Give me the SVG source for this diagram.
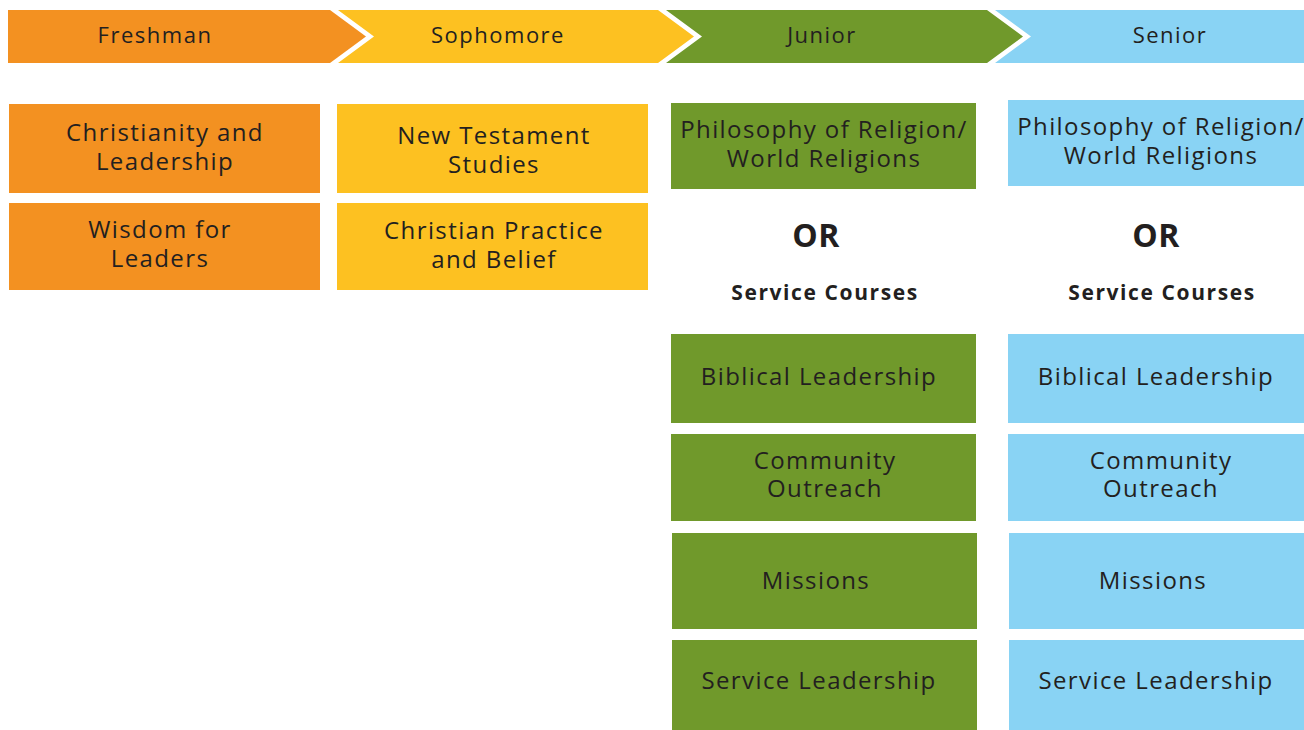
<svg xmlns="http://www.w3.org/2000/svg" width="1304" height="730" viewBox="0 0 1304 730">
<style>
.t{font-family:"Open Sans","Liberation Sans",sans-serif;font-size:24px;letter-spacing:1.4px;fill:#231F20;text-anchor:middle}
.h{font-family:"Open Sans","Liberation Sans",sans-serif;font-size:22px;letter-spacing:1.5px;fill:#231F20;text-anchor:middle}
.or{font-family:"Open Sans","Liberation Sans",sans-serif;font-size:32px;letter-spacing:0.5px;font-weight:bold;fill:#231F20;text-anchor:middle}
.sc{font-family:"Open Sans","Liberation Sans",sans-serif;font-size:21px;letter-spacing:1.6px;font-weight:bold;fill:#231F20;text-anchor:middle}
.o{fill:#F39121}.y{fill:#FDC121}.g{fill:#70992B}.b{fill:#89D3F4}
</style>
<rect width="1304" height="730" fill="#fff"/>
<g id="headers">
<g id="h-freshman"><polygon class="o" points="8,10 330,10 366,36.5 330,63 8,63"/><text class="h" x="155" y="43">Freshman</text></g>
<g id="h-sophomore"><polygon class="y" points="338,10 658,10 694,36.5 658,63 338,63 374,36.5"/><text class="h" x="498" y="43">Sophomore</text></g>
<g id="h-junior"><polygon class="g" points="666,10 987,10 1023,36.5 987,63 666,63 702,36.5"/><text class="h" x="822" y="43">Junior</text></g>
<g id="h-senior"><polygon class="b" points="995,10 1304,10 1304,63 995,63 1031,36.5"/><text class="h" x="1170" y="43">Senior</text></g>
</g>
<g id="freshman">
<g id="f1"><rect class="o" x="9" y="104" width="311" height="89"/><text class="t" x="165" y="141">Christianity and</text><text class="t" x="165" y="170">Leadership</text></g>
<g id="f2"><rect class="o" x="9" y="203" width="311" height="87"/><text class="t" x="160" y="238">Wisdom for</text><text class="t" x="160" y="267">Leaders</text></g>
</g>
<g id="sophomore">
<g id="s1"><rect class="y" x="337" y="104" width="311" height="89"/><text class="t" x="494" y="144">New Testament</text><text class="t" x="494" y="173">Studies</text></g>
<g id="s2"><rect class="y" x="337" y="203" width="311" height="87"/><text class="t" x="494" y="239">Christian Practice</text><text class="t" x="494" y="268">and Belief</text></g>
</g>
<g id="junior">
<g id="j1"><rect class="g" x="671" y="103" width="305" height="86"/><text class="t" x="824" y="138">Philosophy of Religion/</text><text class="t" x="824" y="167">World Religions</text></g>
<text class="or" x="816" y="247">OR</text>
<text class="sc" x="825" y="300">Service Courses</text>
<g id="j2"><rect class="g" x="671" y="334" width="305" height="89"/><text class="t" x="819" y="385">Biblical Leadership</text></g>
<g id="j3"><rect class="g" x="671" y="434" width="305" height="87"/><text class="t" x="825" y="469">Community</text><text class="t" x="825" y="497">Outreach</text></g>
<g id="j4"><rect class="g" x="672" y="533" width="305" height="96"/><text class="t" x="816" y="589">Missions</text></g>
<g id="j5"><rect class="g" x="672" y="640" width="305" height="90"/><text class="t" x="819" y="689">Service Leadership</text></g>
</g>
<g id="senior">
<g id="n1"><rect class="b" x="1008" y="100" width="296" height="86"/><text class="t" x="1161" y="135">Philosophy of Religion/</text><text class="t" x="1161" y="164">World Religions</text></g>
<text class="or" x="1156" y="247">OR</text>
<text class="sc" x="1162" y="300">Service Courses</text>
<g id="n2"><rect class="b" x="1008" y="334" width="296" height="89"/><text class="t" x="1156" y="385">Biblical Leadership</text></g>
<g id="n3"><rect class="b" x="1008" y="434" width="296" height="87"/><text class="t" x="1161" y="469">Community</text><text class="t" x="1161" y="497">Outreach</text></g>
<g id="n4"><rect class="b" x="1009" y="533" width="295" height="96"/><text class="t" x="1153" y="589">Missions</text></g>
<g id="n5"><rect class="b" x="1009" y="640" width="295" height="90"/><text class="t" x="1156" y="689">Service Leadership</text></g>
</g>
<g id="connectors"/>
</svg>
